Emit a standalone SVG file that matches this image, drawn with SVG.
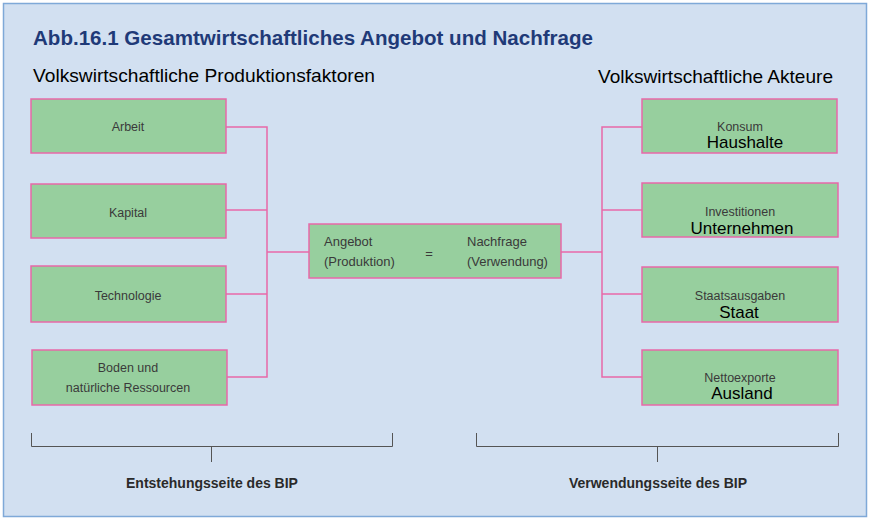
<svg xmlns="http://www.w3.org/2000/svg" width="871" height="522" viewBox="0 0 871 522">
<style>
.box{fill:#97cf9e;stroke:#e868a8;stroke-width:1.5}
.con{fill:none;stroke:#e868a8;stroke-width:1.5}
.br{fill:none;stroke:#555;stroke-width:1}
.sm{font-family:"Liberation Sans",Arial,sans-serif;font-size:12.5px;fill:#3a3a3a;text-anchor:middle}
.lg{font-family:"Liberation Sans",Arial,sans-serif;font-size:17px;fill:#000}
.hd{font-family:"Liberation Sans",Arial,sans-serif;font-size:19px;fill:#000}
.ct{font-family:"Liberation Sans",Arial,sans-serif;font-size:13px;fill:#3a3a3a}
.bt{font-family:"Liberation Sans",Arial,sans-serif;font-size:14px;font-weight:bold;fill:#2a2a2a;text-anchor:middle}
</style>
<rect x="0" y="0" width="871" height="522" fill="#fff"/>
<rect x="3.5" y="3.5" width="863" height="513" fill="#d2e0f1" stroke="#7fa9d8" stroke-width="1.5"/>
<text x="33" y="45" font-family="Liberation Sans,Arial,sans-serif" font-size="21" font-weight="bold" fill="#1f3a78" textLength="560" lengthAdjust="spacingAndGlyphs">Abb.16.1  Gesamtwirtschaftliches Angebot und Nachfrage</text>
<text class="hd" x="33" y="82" textLength="342" lengthAdjust="spacingAndGlyphs">Volkswirtschaftliche Produktionsfaktoren</text>
<text class="hd" x="598" y="83" textLength="235" lengthAdjust="spacingAndGlyphs">Volkswirtschaftliche Akteure</text>

<g id="connectors">
<polyline class="con" points="226,127 267,127 267,377 227,377"/>
<line class="con" x1="226" y1="210" x2="267" y2="210"/>
<line class="con" x1="226" y1="294" x2="267" y2="294"/>
<line class="con" x1="267" y1="252" x2="309" y2="252"/>
<line class="con" x1="561" y1="252" x2="602" y2="252"/>
<polyline class="con" points="642,127 602,127 602,377 642,377"/>
<line class="con" x1="602" y1="210" x2="642" y2="210"/>
<line class="con" x1="602" y1="294" x2="642" y2="294"/>
</g>

<g id="arbeit"><rect class="box" x="31" y="99" width="195" height="54"/><text class="sm" x="128" y="131">Arbeit</text></g>
<g id="kapital"><rect class="box" x="31" y="184" width="195" height="54"/><text class="sm" x="128" y="217">Kapital</text></g>
<g id="technologie"><rect class="box" x="31" y="266" width="195" height="56"/><text class="sm" x="128" y="300">Technologie</text></g>
<g id="boden"><rect class="box" x="32" y="350" width="195" height="55"/><text class="sm" x="128" y="372">Boden und</text><text class="sm" x="128" y="392">natürliche Ressourcen</text></g>

<g id="center"><rect class="box" x="309" y="224" width="252" height="54"/>
<text class="ct" x="324" y="246">Angebot</text><text class="ct" x="324" y="266">(Produktion)</text>
<text class="ct" x="429" y="258" text-anchor="middle">=</text>
<text class="ct" x="467" y="246">Nachfrage</text><text class="ct" x="467" y="266">(Verwendung)</text></g>

<g id="konsum"><rect class="box" x="642" y="99" width="195" height="54"/><text class="sm" x="740" y="131">Konsum</text><text class="lg" x="745" y="148" text-anchor="middle">Haushalte</text></g>
<g id="investitionen"><rect class="box" x="642" y="183" width="196" height="54"/><text class="sm" x="740" y="216">Investitionen</text><text class="lg" x="742" y="234" text-anchor="middle">Unternehmen</text></g>
<g id="staat"><rect class="box" x="642" y="267" width="196" height="55"/><text class="sm" x="740" y="300">Staatsausgaben</text><text class="lg" x="739" y="318" text-anchor="middle">Staat</text></g>
<g id="ausland"><rect class="box" x="642" y="350" width="196" height="55"/><text class="sm" x="740" y="382">Nettoexporte</text><text class="lg" x="742" y="399" text-anchor="middle">Ausland</text></g>

<g id="brackets">
<polyline class="br" points="31.5,433 31.5,446.5 392.5,446.5 392.5,433"/>
<line class="br" x1="211.5" y1="446.5" x2="211.5" y2="462"/>
<polyline class="br" points="476.5,433 476.5,446.5 838.5,446.5 838.5,433"/>
<line class="br" x1="657.5" y1="446.5" x2="657.5" y2="462"/>
</g>
<text class="bt" x="212" y="488">Entstehungsseite des BIP</text>
<text class="bt" x="658" y="488">Verwendungsseite des BIP</text>
</svg>
